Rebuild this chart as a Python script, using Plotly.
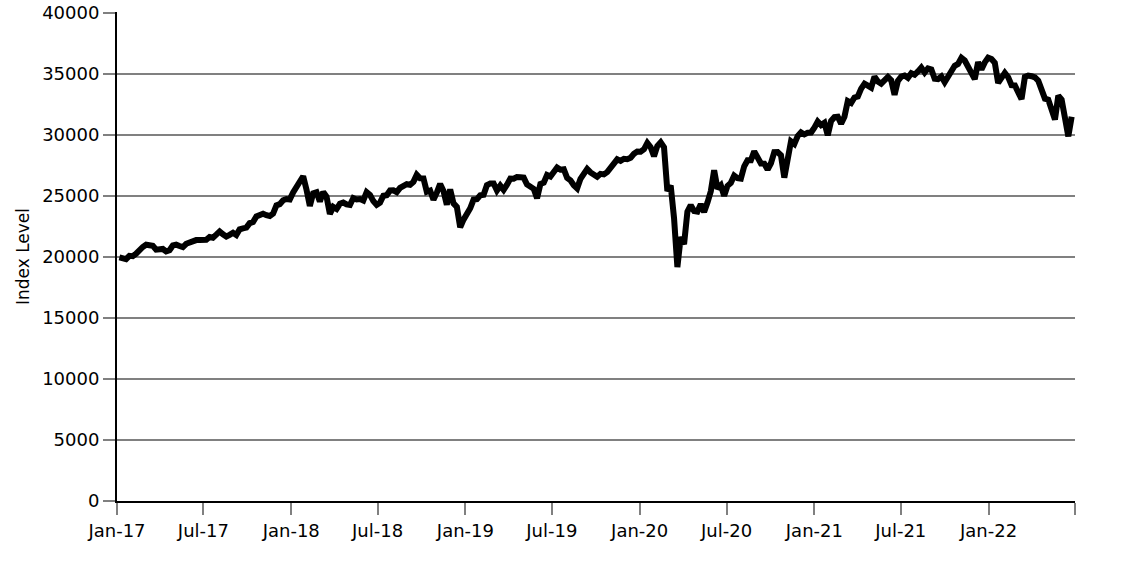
import pandas as pd
import plotly.graph_objects as go

# Weekly index closes (Friday), Jan 2017 - Jun 2022
vals_2017 = [19964, 19886, 19827, 20094, 20071, 20269, 20624, 20822, 21005, 20903,
             20915, 20597, 20663, 20656, 20453, 20548, 20941, 21007, 20897, 20805,
             21080, 21206, 21272, 21384, 21395, 21350, 21414, 21638, 21580, 21830,
             22093, 21858, 21675, 21814, 21988, 21798, 22268, 22350, 22405, 22774,
             22871, 23329, 23434, 23539, 23422, 23358, 23558, 24231, 24329, 24652,
             24754, 24719]
vals_2018 = [25296, 25803, 26072, 26617, 25521, 24191, 25219, 25310, 24538, 25336,
             24946, 23533, 24103, 23933, 24360, 24463, 24311, 24263, 24831, 24715,
             24753, 24635, 25317, 25090, 24580, 24271, 24456, 25019, 25058, 25451,
             25463, 25313, 25669, 25790, 25965, 25917, 26155, 26744, 26458, 26447,
             25340, 25444, 24688, 25271, 25989, 25413, 24286, 25538, 24389, 24101,
             22445, 23062]
vals_2019 = [23433, 23996, 24706, 24737, 25064, 25106, 25883, 26031, 26026, 25450,
             25849, 25502, 25929, 26425, 26412, 26559, 26543, 26505, 25942, 25764,
             25586, 24815, 25984, 26090, 26719, 26600, 26922, 27332, 27154, 27192,
             26485, 26287, 25886, 25629, 26403, 26797, 27220, 26935, 26820, 26573,
             26816, 26770, 26958, 27347, 27681, 28005, 27876, 28051, 28015, 28135,
             28455, 28645]
vals_2020 = [28634, 28824, 29348, 28990, 28256, 29102, 29398, 28992, 25409, 25865,
             23186, 19174, 21637, 21053, 23719, 24242, 23775, 23724, 24331, 23685,
             24465, 25383, 27111, 25606, 25871, 25016, 25827, 26075, 26672, 26470,
             26428, 27433, 27931, 27930, 28654, 28133, 27666, 27657, 27174, 27683,
             28587, 28606, 28336, 26502, 28323, 29480, 29263, 29910, 30218, 30046,
             30179, 30200]
vals_2021 = [30606, 31098, 30814, 30997, 29983, 31148, 31458, 31494, 30932, 31496,
             32779, 32628, 33073, 33153, 33801, 34200, 34043, 33875, 34778, 34382,
             34208, 34529, 34756, 34480, 33290, 34433, 34786, 34870, 34687, 35061,
             34935, 35209, 35515, 35120, 35455, 35369, 34607, 34584, 34798, 34326,
             34746, 35295, 35677, 35820, 36328, 36100, 35602, 34899, 34580, 35971,
             35365, 35950, 36338]
vals_2022 = [36232, 35912, 34265, 34725, 35089, 34738, 34079, 34059, 33615, 32944,
             34755, 34862, 34818, 34721, 34451, 33811, 32977, 32899, 32197, 31262,
             33213, 32900, 31393, 29889, 31500]

values = vals_2017 + vals_2018 + vals_2019 + vals_2020 + vals_2021 + vals_2022
dates = pd.date_range("2017-01-06", periods=len(values), freq="W-FRI")

tick_dates = ["2017-01-01", "2017-07-01", "2018-01-01", "2018-07-01", "2019-01-01",
              "2019-07-01", "2020-01-01", "2020-07-01", "2021-01-01", "2021-07-01",
              "2022-01-01", "2022-07-01"]
tick_labels = ["Jan-17", "Jul-17", "Jan-18", "Jul-18", "Jan-19", "Jul-19", "Jan-20",
               "Jul-20", "Jan-21", "Jul-21", "Jan-22", ""]
y_ticks = [0, 5000, 10000, 15000, 20000, 25000, 30000, 35000, 40000]
y_labels = ["0", "5000", "10000", "15000", "20000", "25000", "30000", "35000", "40000"]

fig = go.Figure()
fig.add_trace(go.Scatter(x=dates, y=values, mode="lines",
                         line=dict(color="black", width=6), showlegend=False))

font = dict(family="DejaVu Sans", size=18, color="black")
fig.update_layout(
    width=1146, height=573,
    margin=dict(l=117, r=71, t=12, b=72),
    plot_bgcolor="white", paper_bgcolor="white",
    font=font,
    xaxis=dict(
        type="date", range=["2017-01-01", "2022-07-01"],
        tickvals=tick_dates, ticktext=tick_labels,
        showgrid=False, showline=True, linecolor="black", linewidth=2,
        ticks="outside", ticklen=12, tickwidth=2, tickcolor="#808080",
        tickfont=font, zeroline=False, automargin=False,
    ),
    yaxis=dict(
        range=[0, 40080], tickvals=y_ticks, ticktext=y_labels,
        showgrid=True, gridcolor="#808080", gridwidth=2,
        showline=True, linecolor="black", linewidth=2,
        ticks="outside", ticklen=12, tickwidth=2, tickcolor="#808080",
        tickfont=font, zeroline=False, automargin=False,
        title=dict(text="Index Level", font=dict(family="DejaVu Sans", size=17),
                   standoff=8),
    ),
)

fig.write_html("out.html", config={"displayModeBar": False},
               post_script="document.body.style.margin='0';")
